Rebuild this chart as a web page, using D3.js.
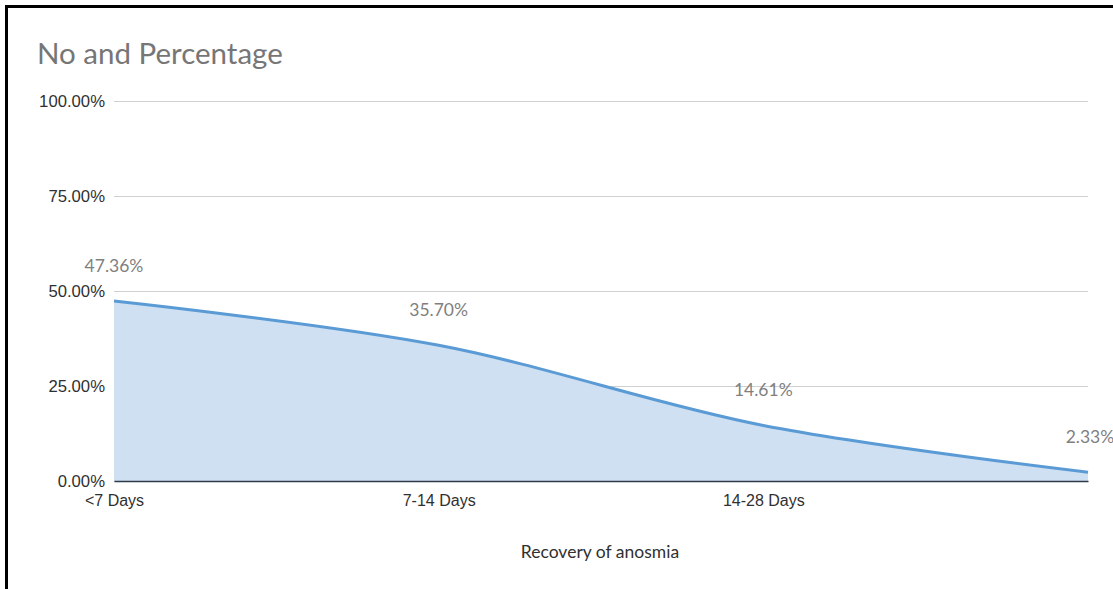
<!DOCTYPE html>
<html>
<head>
<meta charset="utf-8">
<script src="https://cdn.jsdelivr.net/npm/d3@7"></script>
<style>
  html, body { margin: 0; padding: 0; background: #fff; }
  svg { display: block; font-family: Lato, "Noto Sans", sans-serif; }
</style>
</head>
<body>
<svg id="chart" width="1113" height="589"></svg>
<script>
// Recovery of anosmia — share of patients by recovery time
const categories = ["<7 Days", "7-14 Days", "14-28 Days", ""];
const percentages = [47.36, 35.70, 14.61, 2.33];
const yTicks = [0, 25, 50, 75, 100];

const svg = d3.select("#chart");
const W = 1113, H = 589;

// outer frame (left and top edges visible)
svg.append("path")
  .attr("d", `M6.5,${H} V6.5 H${W}`)
  .attr("fill", "none")
  .attr("stroke", "#000")
  .attr("stroke-width", 3);

const x = d3.scalePoint().domain(d3.range(categories.length)).range([114, 1088]);
const y = d3.scaleLinear().domain([0, 100]).range([481, 101]);

// title
svg.append("text")
  .attr("x", 37).attr("y", 64)
  .attr("fill", "#767676")
  .attr("font-size", 29.5)
  .text("No and Percentage");

// gridlines + y tick labels
const yAxis = d3.axisLeft(y)
  .tickValues(yTicks)
  .tickSize(-(1088 - 114))
  .tickPadding(9)
  .tickFormat(d => d.toFixed(2) + "%");
const gy = svg.append("g").attr("transform", "translate(114,0)").call(yAxis);
gy.select(".domain").remove();
gy.selectAll(".tick line").attr("stroke", "#d0d0d0").attr("stroke-width", 1);
gy.selectAll(".tick text").attr("fill", "#303030").attr("font-size", 16.7).attr("dy", "0.35em");

const data = percentages.map((v, i) => ({ i, v }));
const curve = d3.curveCatmullRom.alpha(0.5);

// filled area
const area = d3.area().x(d => x(d.i)).y0(y(0)).y1(d => y(d.v)).curve(curve);
svg.append("path").datum(data)
  .attr("d", area)
  .attr("fill", "#cfe0f2");

// line
const line = d3.line().x(d => x(d.i)).y(d => y(d.v)).curve(curve);
svg.append("path").datum(data)
  .attr("d", line)
  .attr("fill", "none")
  .attr("stroke", "#5b9bd5")
  .attr("stroke-width", 3)
  .attr("stroke-linecap", "butt");

// x axis baseline + category labels
const xAxis = d3.axisBottom(x).tickSize(0).tickPadding(14).tickFormat(i => categories[i]);
const gx = svg.append("g").attr("transform", `translate(0,${y(0)})`).call(xAxis);
gx.select(".domain").attr("stroke", "#2f3a4a").attr("stroke-width", 1.5);
gx.selectAll(".tick text").attr("fill", "#303030").attr("font-size", 16);

// x axis title
svg.append("text")
  .attr("x", 600).attr("y", 558)
  .attr("text-anchor", "middle")
  .attr("fill", "#303030")
  .attr("font-size", 17.5)
  .text("Recovery of anosmia");

// value labels
svg.append("g").selectAll("text").data(data).join("text")
  .attr("x", d => x(d.i) + (d.i === categories.length - 1 ? 2 : 0))
  .attr("y", d => y(d.v) - 29)
  .attr("text-anchor", "middle")
  .attr("fill", "#7f7f7f")
  .attr("font-size", 17.5)
  .text(d => d.v.toFixed(2) + "%");
</script>
</body>
</html>
